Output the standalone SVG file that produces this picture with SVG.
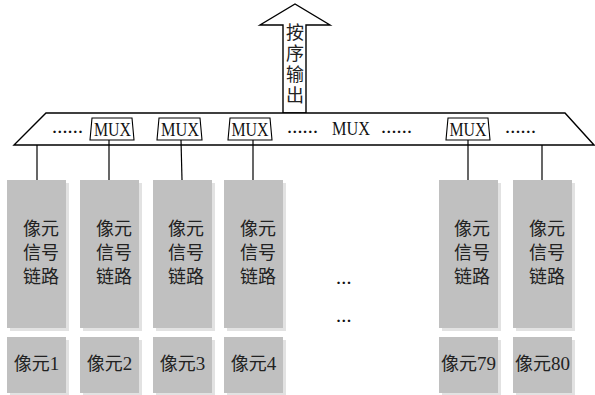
<svg xmlns="http://www.w3.org/2000/svg" width="595" height="395" viewBox="0 0 595 395">
  <style>
    .edge { fill: none; stroke: #000; stroke-width: 1.2; }
    .bus { fill: #fff; stroke: #000; stroke-width: 1.4; }
    .mux { fill: #fff; stroke: #000; stroke-width: 1.1; }
    .cell { fill: #c0c0c0; }
    .shadow { fill: #e2e2e2; }
    .lat { font-family: "Liberation Serif", "Times New Roman", serif; font-size: 18px; fill: #111; }
    .dots { font-family: "Liberation Serif", "Times New Roman", serif; font-size: 15.5px; font-weight: bold; fill: #111; }
    .cjk { font-family: "Noto Sans CJK SC", "Noto Sans CJK JP", sans-serif; font-size: 18px; fill: #222; }
    .mix { font-family: "Liberation Serif", "Noto Sans CJK SC", serif; font-size: 19px; fill: #222; }
    .mix tspan { font-family: "Noto Sans CJK SC", "Noto Sans CJK JP", sans-serif; font-size: 18px; }
  </style>
  <defs>
    <g id="cellShape">
      <rect class="shadow" x="3" y="3" width="59" height="148"/>
      <rect class="cell" x="0" y="0" width="59" height="148"/>
    </g>
    <g id="labelShape">
      <rect class="shadow" x="3" y="3" width="59" height="56"/>
      <rect class="cell" x="0" y="0" width="59" height="56"/>
    </g>
  </defs>

  <!-- output arrow -->
  <g id="output">
    <polygon class="bus" points="283,113 283,25 260,25 295,4 330,25 306,25 306,113"/>
    <text class="cjk" x="295" y="23" style="writing-mode: vertical-rl; letter-spacing: 3px;">按序输出</text>
  </g>

  <!-- multiplexer bus -->
  <g id="bus">
    <polygon class="bus" points="46,113 565,113 594,145 14,145"/>
    <text class="dots" x="52" y="133">……</text>
    <text class="dots" x="287" y="133">……</text>
    <text class="lat" x="332" y="135" textLength="38" lengthAdjust="spacingAndGlyphs">MUX</text>
    <text class="dots" x="381" y="133">……</text>
    <text class="dots" x="505" y="133">……</text>
  </g>

  <g id="mux1"><polygon class="mux" points="92,118 132,118 134,140 90,140"/><text class="lat" x="94" y="136" textLength="37" lengthAdjust="spacingAndGlyphs">MUX</text></g>
  <g id="mux2"><polygon class="mux" points="159,118 200,118 202,140 157,140"/><text class="lat" x="161" y="136" textLength="38" lengthAdjust="spacingAndGlyphs">MUX</text></g>
  <g id="mux3"><polygon class="mux" points="230,118 270,118 272,140 228,140"/><text class="lat" x="231.5" y="136" textLength="37" lengthAdjust="spacingAndGlyphs">MUX</text></g>
  <g id="mux4"><polygon class="mux" points="448,118 488,118 490,140 446,140"/><text class="lat" x="449.5" y="136" textLength="37" lengthAdjust="spacingAndGlyphs">MUX</text></g>

  <!-- connectors from bus to signal chains -->
  <g id="connectors">
    <line class="edge" x1="37" y1="145" x2="37" y2="180"/>
    <line class="edge" x1="109" y1="140" x2="109" y2="180"/>
    <line class="edge" x1="181" y1="140" x2="182" y2="180"/>
    <line class="edge" x1="253" y1="140" x2="253" y2="180"/>
    <line class="edge" x1="468" y1="140" x2="468" y2="180"/>
    <line class="edge" x1="542" y1="145" x2="542" y2="180"/>
  </g>

  <!-- signal chains -->
  <g id="chain1"><use href="#cellShape" x="7" y="180"/><text class="cjk" x="23" y="235">像元</text><text class="cjk" x="23" y="259">信号</text><text class="cjk" x="23" y="283">链路</text></g>
  <g id="chain2"><use href="#cellShape" x="80" y="180"/><text class="cjk" x="96" y="235">像元</text><text class="cjk" x="96" y="259">信号</text><text class="cjk" x="96" y="283">链路</text></g>
  <g id="chain3"><use href="#cellShape" x="153" y="180"/><text class="cjk" x="168" y="235">像元</text><text class="cjk" x="168" y="259">信号</text><text class="cjk" x="168" y="283">链路</text></g>
  <g id="chain4"><use href="#cellShape" x="224" y="180"/><text class="cjk" x="240" y="235">像元</text><text class="cjk" x="240" y="259">信号</text><text class="cjk" x="240" y="283">链路</text></g>
  <g id="chain79"><use href="#cellShape" x="439" y="180"/><text class="cjk" x="454" y="235">像元</text><text class="cjk" x="454" y="259">信号</text><text class="cjk" x="454" y="283">链路</text></g>
  <g id="chain80"><use href="#cellShape" x="513" y="180"/><text class="cjk" x="529" y="235">像元</text><text class="cjk" x="529" y="259">信号</text><text class="cjk" x="529" y="283">链路</text></g>

  <!-- omitted columns -->
  <g id="gap">
    <text class="dots" x="336" y="284">…</text>
    <text class="dots" x="336" y="322">…</text>
  </g>

  <!-- pixels -->
  <g id="pixel1"><use href="#labelShape" x="7" y="337"/><text class="mix" x="36.5" y="370" text-anchor="middle"><tspan>像元</tspan>1</text></g>
  <g id="pixel2"><use href="#labelShape" x="80" y="337"/><text class="mix" x="109.5" y="370" text-anchor="middle"><tspan>像元</tspan>2</text></g>
  <g id="pixel3"><use href="#labelShape" x="153" y="337"/><text class="mix" x="182.5" y="370" text-anchor="middle"><tspan>像元</tspan>3</text></g>
  <g id="pixel4"><use href="#labelShape" x="224" y="337"/><text class="mix" x="253.5" y="370" text-anchor="middle"><tspan>像元</tspan>4</text></g>
  <g id="pixel79"><use href="#labelShape" x="439" y="337"/><text class="mix" x="468.5" y="370" text-anchor="middle"><tspan>像元</tspan>79</text></g>
  <g id="pixel80"><use href="#labelShape" x="513" y="337"/><text class="mix" x="542.5" y="370" text-anchor="middle"><tspan>像元</tspan>80</text></g>
</svg>
